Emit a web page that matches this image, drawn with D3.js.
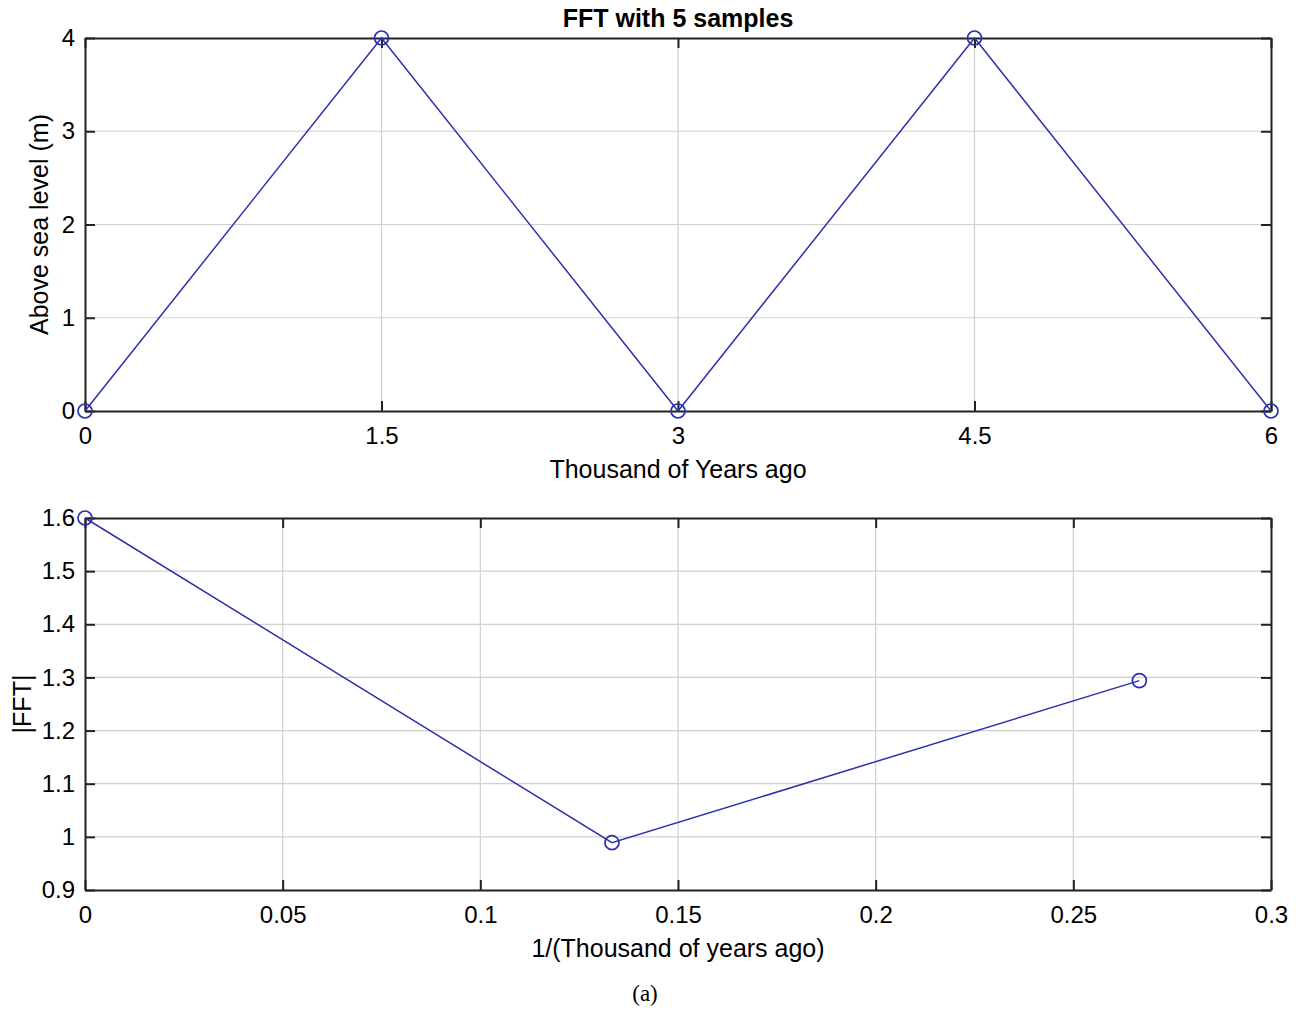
<!DOCTYPE html>
<meta charset="utf-8">
<script src="https://d3js.org/d3.v7.min.js"></script>
<style>
  body { margin: 0; background: #fff; }
  text { fill: #000; }
  .grid line { stroke: #d0d0d0; stroke-width: 1.2; }
</style>
<div id="chart"></div>
<script>
  // top panel: sea level samples
  var years = [0, 1.5, 3, 4.5, 6];
  var level = [0, 4, 0, 4, 0];
  var topXTicks = [0, 1.5, 3, 4.5, 6];
  var topYTicks = [0, 1, 2, 3, 4];

  // bottom panel: FFT magnitude
  var freq = [0, 0.1333, 0.2667];
  var fftMag = [1.6, 0.989, 1.294];
  var botXTicks = [0, 0.05, 0.1, 0.15, 0.2, 0.25, 0.3];
  var botYTicks = [0.9, 1, 1.1, 1.2, 1.3, 1.4, 1.5, 1.6];

  var width = 1301, height = 1010;
  var left = 85, right = 1271;
  var lineColor = "#2b31ad";
  var sans = "Arial, 'Liberation Sans', sans-serif";

  var svg = d3.select("#chart").append("svg")
    .attr("width", width)
    .attr("height", height)
    .style("font-family", sans);

  function panel(opt) {
    var x = d3.scaleLinear().domain(opt.xDomain).range([left, right]);
    var y = d3.scaleLinear().domain(opt.yDomain).range([opt.bottom, opt.top]);
    var g = svg.append("g");

    // grid
    var grid = g.append("g").attr("class", "grid");
    grid.selectAll(".vx").data(opt.xTicks.slice(1, -1)).enter().append("line")
      .attr("x1", d => x(d)).attr("x2", d => x(d))
      .attr("y1", opt.top).attr("y2", opt.bottom);
    grid.selectAll(".hy").data(opt.yTicks.slice(1, -1)).enter().append("line")
      .attr("x1", left).attr("x2", right)
      .attr("y1", d => y(d)).attr("y2", d => y(d));

    // axes with inward ticks on all sides
    var fmt = opt.fmt;
    var bx = g.append("g").attr("transform", "translate(0," + opt.bottom + ")")
      .call(d3.axisBottom(x).tickValues(opt.xTicks).tickSizeInner(-10).tickSizeOuter(0).tickPadding(16).tickFormat(fmt));
    var tx = g.append("g").attr("transform", "translate(0," + opt.top + ")")
      .call(d3.axisTop(x).tickValues(opt.xTicks).tickSizeInner(-10).tickSizeOuter(0).tickFormat(""));
    var ly = g.append("g").attr("transform", "translate(" + left + ",0)")
      .call(d3.axisLeft(y).tickValues(opt.yTicks).tickSizeInner(-10).tickSizeOuter(0).tickPadding(10).tickFormat(fmt));
    var ry = g.append("g").attr("transform", "translate(" + right + ",0)")
      .call(d3.axisRight(y).tickValues(opt.yTicks).tickSizeInner(-10).tickSizeOuter(0).tickFormat(""));

    [bx, tx, ly, ry].forEach(function (a) {
      a.attr("font-family", sans).attr("font-size", 24);
      a.select(".domain").attr("stroke", "#222").attr("stroke-width", 2);
      a.selectAll(".tick line").attr("stroke", "#222").attr("stroke-width", 2);
      a.selectAll("text").attr("fill", "#000");
    });

    // line and markers
    var pts = opt.xs.map((d, i) => [d, opt.ys[i]]);
    g.append("path").datum(pts)
      .attr("fill", "none").attr("stroke", lineColor).attr("stroke-width", 1.5)
      .attr("d", d3.line().x(d => x(d[0])).y(d => y(d[1])));
    g.selectAll(".pt").data(pts).enter().append("circle")
      .attr("cx", d => x(d[0])).attr("cy", d => y(d[1])).attr("r", 7)
      .attr("fill", "none").attr("stroke", lineColor).attr("stroke-width", 1.7);

    // labels
    g.append("text").attr("x", (left + right) / 2).attr("y", opt.bottom + 67)
      .attr("text-anchor", "middle").attr("font-size", 25).text(opt.xLabel);
    g.append("text")
      .attr("transform", "translate(" + opt.yLabelX + "," + (opt.top + opt.bottom) / 2 + ") rotate(-90)")
      .attr("text-anchor", "middle").attr("font-size", 25).text(opt.yLabel);
  }

  var f1 = d => String(d);

  panel({
    xDomain: [0, 6], yDomain: [0, 4], top: 38, bottom: 411,
    xTicks: topXTicks, yTicks: topYTicks, xs: years, ys: level,
    xLabel: "Thousand of Years ago", yLabel: "Above sea level (m)", yLabelX: 48, fmt: f1
  });

  panel({
    xDomain: [0, 0.3], yDomain: [0.9, 1.6], top: 518, bottom: 890,
    xTicks: botXTicks, yTicks: botYTicks, xs: freq, ys: fftMag,
    xLabel: "1/(Thousand of years ago)", yLabel: "|FFT|", yLabelX: 31,
    fmt: d => String(+d.toFixed(2))
  });

  svg.append("text").attr("x", (left + right) / 2).attr("y", 27)
    .attr("text-anchor", "middle").attr("font-size", 25).attr("font-weight", "bold")
    .text("FFT with 5 samples");

  svg.append("text").attr("x", 645).attr("y", 1001)
    .attr("text-anchor", "middle").attr("font-size", 23)
    .style("font-family", "'Liberation Serif', 'DejaVu Serif', serif")
    .text("(a)");
</script>
